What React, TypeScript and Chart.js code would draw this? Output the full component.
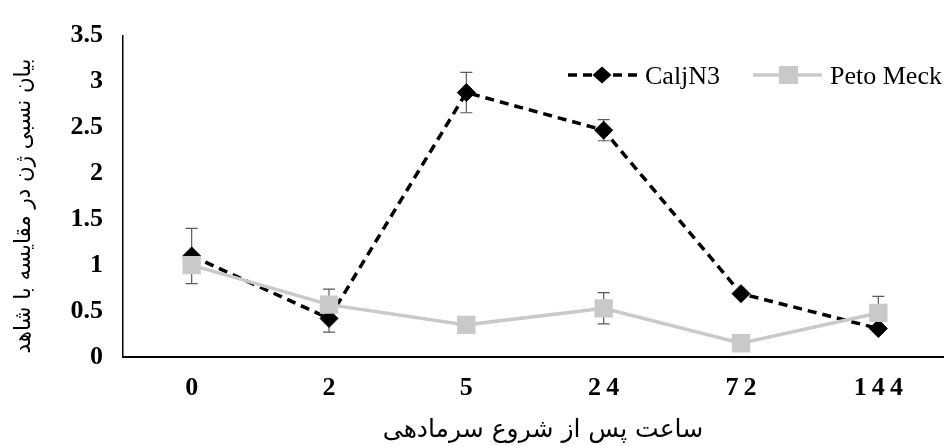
import React, { useEffect, useRef } from 'react';
import { Chart, registerables } from 'chart.js';

Chart.register(...registerables);

const categories = ['0', '2', '5', '24', '72', '144'];
const seriesNames = ['CaljN3', 'Peto Meck'];
const caljN3Values = [1.1, 0.42, 2.88, 2.47, 0.69, 0.31];
const caljN3Errors = [0.3, 0.15, 0.22, 0.115, 0, 0];
const petoMeckValues = [1.0, 0.57, 0.35, 0.53, 0.15, 0.48];
const petoMeckErrors = [0, 0.17, 0, 0.17, 0, 0.18];
const yMin = 0;
const yMax = 3.5;
const yStep = 0.5;
const xTitle = 'ساعت پس از شروع سرمادهی';
const yTitle = 'بیان نسبی ژن در مقایسه با شاهد';

const BLACK = '#000000';
const GREY = '#c9c9c9';
const ERR = '#5a5a5a';
const SERIF = "'Liberation Serif', 'Times New Roman', serif";
const ARABIC = "'DejaVu Sans', 'Noto Sans', sans-serif";

const errorBarPlugin = {
  id: 'errorBars',
  beforeDatasetsDraw(chart: any) {
    const { ctx } = chart;
    const y = chart.scales.y;
    ctx.save();
    ctx.strokeStyle = ERR;
    ctx.lineWidth = 1.2;
    ctx.setLineDash([]);
    chart.data.datasets.forEach((ds: any, di: number) => {
      const meta = chart.getDatasetMeta(di);
      meta.data.forEach((pt: any, i: number) => {
        const e = ds.errors ? ds.errors[i] : 0;
        if (!e) return;
        const v = ds.data[i];
        const top = y.getPixelForValue(v + e);
        const bot = y.getPixelForValue(v - e);
        const px = pt.x;
        ctx.beginPath();
        ctx.moveTo(px, top);
        ctx.lineTo(px, bot);
        ctx.moveTo(px - 6, top);
        ctx.lineTo(px + 6, top);
        ctx.moveTo(px - 6, bot);
        ctx.lineTo(px + 6, bot);
        ctx.stroke();
      });
    });
    ctx.restore();
  },
};

const legendAndTitlesPlugin = {
  id: 'legendAndTitles',
  afterDraw(chart: any) {
    const { ctx } = chart;
    ctx.save();
    // legend entry 1: dashed line + diamond
    const ly = 75;
    ctx.strokeStyle = BLACK;
    ctx.lineWidth = 3.5;
    ctx.setLineDash([9, 6]);
    ctx.beginPath();
    ctx.moveTo(568, ly);
    ctx.lineTo(637, ly);
    ctx.stroke();
    ctx.setLineDash([]);
    ctx.fillStyle = BLACK;
    ctx.beginPath();
    ctx.moveTo(602 - 9.5, ly);
    ctx.lineTo(602, ly - 8.5);
    ctx.lineTo(602 + 9.5, ly);
    ctx.lineTo(602, ly + 8.5);
    ctx.closePath();
    ctx.fill();
    ctx.font = `26px ${SERIF}`;
    ctx.textBaseline = 'middle';
    ctx.textAlign = 'left';
    ctx.fillText(seriesNames[0], 645, ly + 2);
    // legend entry 2: solid grey line + square
    ctx.strokeStyle = GREY;
    ctx.lineWidth = 3.5;
    ctx.beginPath();
    ctx.moveTo(753, ly);
    ctx.lineTo(822, ly);
    ctx.stroke();
    ctx.fillStyle = GREY;
    ctx.fillRect(779, ly - 9, 19, 18);
    ctx.fillStyle = BLACK;
    ctx.fillText(seriesNames[1], 830, ly + 2);
    // y axis title
    ctx.save();
    ctx.translate(24, 206);
    ctx.rotate(-Math.PI / 2);
    ctx.font = `23px ${ARABIC}`;
    ctx.textAlign = 'center';
    ctx.textBaseline = 'middle';
    ctx.direction = 'rtl';
    ctx.fillText(yTitle, 0, 0, 295);
    ctx.restore();
    // x axis title
    ctx.font = `25px ${ARABIC}`;
    ctx.textAlign = 'center';
    ctx.textBaseline = 'middle';
    ctx.direction = 'rtl';
    ctx.fillText(xTitle, 543, 430, 335);
    ctx.restore();
  },
};

export default function App() {
  const canvasRef = useRef<HTMLCanvasElement | null>(null);

  useEffect(() => {
    const canvas = canvasRef.current;
    if (!canvas) return;
    const chart = new Chart(canvas, {
      type: 'line',
      data: {
        labels: categories,
        datasets: [
          {
            label: seriesNames[0],
            data: caljN3Values,
            errors: caljN3Errors,
            borderColor: BLACK,
            backgroundColor: BLACK,
            borderWidth: 3.5,
            borderDash: [9, 6],
            pointStyle: 'rectRot',
            pointRadius: 9,
            pointBorderWidth: 1,
            pointBackgroundColor: BLACK,
            pointBorderColor: BLACK,
            tension: 0,
            order: 2,
          } as any,
          {
            label: seriesNames[1],
            data: petoMeckValues,
            errors: petoMeckErrors,
            borderColor: GREY,
            backgroundColor: GREY,
            borderWidth: 3.5,
            pointStyle: 'rect',
            pointRadius: 13,
            pointBorderWidth: 0,
            pointBackgroundColor: GREY,
            pointBorderColor: GREY,
            tension: 0,
            order: 1,
          } as any,
        ],
      },
      options: {
        animation: false,
        responsive: false,
        maintainAspectRatio: false,
        layout: { padding: { left: 0, right: 6, top: 26, bottom: 0 } },
        plugins: {
          legend: { display: false },
          tooltip: { enabled: false },
        },
        scales: {
          x: {
            type: 'category',
            offset: true,
            grid: { display: false, drawTicks: false },
            border: { display: true, color: BLACK, width: 2 },
            ticks: {
              color: BLACK,
              padding: 16,
              font: { family: SERIF, size: 26, weight: 'bold' },
              maxRotation: 0,
              autoSkip: false,
              callback: (_v: any, i: number) => categories[i].split('').join('\u2009'),
            },
            afterFit: (scale: any) => {
              scale.height = 89;
            },
          },
          y: {
            min: yMin,
            max: yMax,
            grid: { display: false, drawTicks: false },
            border: { display: true, color: BLACK, width: 1.5 },
            ticks: {
              stepSize: yStep,
              color: BLACK,
              padding: 20,
              font: { family: SERIF, size: 26, weight: 'bold' },
              callback: (v: any) => String(Number(v)),
            },
            afterFit: (scale: any) => {
              scale.width = 123;
            },
          },
        },
      },
      plugins: [errorBarPlugin, legendAndTitlesPlugin],
    } as any);
    return () => chart.destroy();
  }, []);

  return (
    <div
      style={{
        position: 'absolute',
        left: 0,
        top: 0,
        width: 944,
        height: 446,
        overflow: 'hidden',
        background: '#ffffff',
      }}
    >
      <canvas
        ref={canvasRef}
        width={960}
        height={446}
        style={{ display: 'block', width: 960, height: 446 }}
      />
    </div>
  );
}
